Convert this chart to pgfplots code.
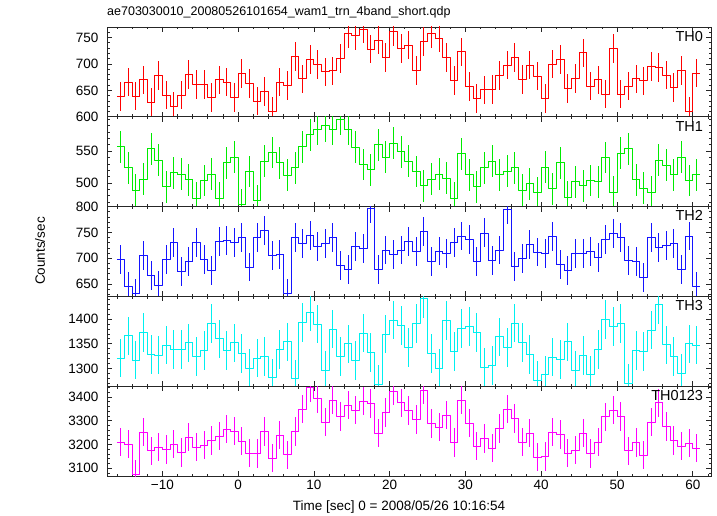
\documentclass[border=0pt]{standalone}
\usepackage{pgfplots}
\pgfplotsset{compat=1.18}
\usepackage{pgfplotstable}
\usepackage{fontspec}
\setmainfont{Liberation Sans}

\definecolor{cA}{rgb}{1,0,0}
\definecolor{cB}{rgb}{0,0.92,0}
\definecolor{cC}{rgb}{0.08,0.08,1}
\definecolor{cD}{rgb}{0,0.94,0.94}
\definecolor{cE}{rgb}{1,0,1}

\pgfplotstableread{
t tc a b c d e
-16 -15.5 638 557 697 1321 3210
-15 -14.5 666 524 646 1366 3201
-14 -13.5 639 489 631 1317 3075
-13 -12.5 670 506 706 1373 3252
-12 -11.5 627 554 666 1328 3173
-11 -10.5 678 536 647 1327 3189
-10 -9.5 641 494 698 1347 3178
-9 -8.5 620 516 730 1338 3201
-8 -7.5 641 514 675 1338 3165
-7 -6.5 680 505 694 1352 3231
-6 -5.5 661 476 730 1324 3189
-5 -4.5 661 504 697 1336 3197
-4 -3.5 637 514 677 1391 3216
-3 -2.5 670 476 732 1360 3235
-2 -1.5 666 532 734 1336 3265
-1 -0.5 637 541 731 1352 3256
0 0.5 682 466 740 1330 3214
1 1.5 663 518 683 1300 3163
2 2.5 630 472 740 1321 3161
3 3.5 648 534 753 1324 3254
4 4.5 610 548 705 1281 3142
5 5.5 666 532 707 1338 3240
6 6.5 659 512 631 1354 3156
7 7.5 714 524 740 1279 3254
8 8.5 672 557 729 1393 3349
9 9.5 708 576 744 1414 3438
10 10.5 699 584 723 1390 3392
11 11.5 685 590 729 1296 3294
12 12.5 687 585 740 1380 3386
13 13.5 710 600 686 1324 3317
14 14.5 757 584 678 1350 3366
15 15.5 754 556 722 1316 3345
16 16.5 766 529 719 1372 3382
17 17.5 728 521 797 1332 3373
18 18.5 745 560 678 1268 3248
19 19.5 712 541 716 1370 3335
20 20.5 761 563 707 1398 3424
21 21.5 729 549 716 1387 3375
22 22.5 736 534 732 1342 3342
23 23.5 688 518 713 1391 3304
24 24.5 743 496 752 1441 3428
25 25.5 757 506 694 1330 3287
26 26.5 749 514 714 1301 3273
27 27.5 712 508 710 1397 3324
28 28.5 669 476 730 1334 3209
29 29.5 723 546 743 1381 3387
30 30.5 657 513 737 1385 3290
31 31.5 635 494 694 1373 3193
32 32.5 651 524 749 1303 3225
33 33.5 652 534 696 1306 3185
34 34.5 678 513 716 1364 3268
35 35.5 698 519 794 1342 3349
36 36.5 712 524 684 1392 3308
37 37.5 671 489 699 1353 3210
38 38.5 698 499 727 1328 3248
39 39.5 677 485 712 1276 3147
40 40.5 635 525 709 1287 3149
41 41.5 700 491 742 1323 3252
42 42.5 708 532 688 1318 3242
43 43.5 654 478 677 1354 3163
44 44.5 673 502 709 1297 3176
45 45.5 721 496 709 1326 3248
46 46.5 658 504 713 1287 3161
47 47.5 670 502 701 1338 3210
48 48.5 643 540 736 1399 3316
49 49.5 729 486 748 1385 3344
50 50.5 643 547 740 1391 3318
51 51.5 658 554 695 1270 3173
52 52.5 672 505 694 1336 3207
53 53.5 668 492 663 1334 3155
54 54.5 695 486 741 1378 3294
55 55.5 693 536 721 1429 3375
56 56.5 679 528 725 1348 3276
57 57.5 655 513 728 1324 3217
58 58.5 688 541 679 1290 3193
59 59.5 611 504 743 1350 3206
60 60.5 683 513 645 1347 3185
61 61.5 683 513 645 1347 3185
}\lc

\pgfplotsset{
  panel/.style={
    scale only axis, width=604pt, height=89.8pt, anchor=north west,
    xmin=-17.3, xmax=62.4,
    axis line style={line width=0.9pt, draw=black!85},
    tick style={draw=black!85, line width=0.7pt},
    tick align=inside,
    major tick length=5pt, minor tick length=2.5pt,
    xtick={-10,0,...,60}, minor xtick={-16,-14,...,62},
    xticklabels={},
    tick label style={font=\fontsize{13.5}{14}\selectfont, text=black},
    yticklabel style={xshift=-5pt},
    /pgf/number format/assume math mode=true,
    /pgf/number format/1000 sep={},
    scaled y ticks=false,
    clip=true,
  },
}
\tikzset{lab/.style={anchor=north east, inner sep=0pt, text=black, font=\fontsize{14.5}{15}\selectfont}}

\begin{document}
\begin{tikzpicture}
\path[use as bounding box] (0,0) rectangle (717pt,-516pt);

\node[anchor=west, inner sep=0pt, font=\fontsize{12.5}{13}\selectfont] at (107pt,-12pt)
  {ae703030010\_20080526101654\_wam1\_trn\_4band\_short.qdp};
\node[rotate=90, inner sep=0pt, font=\fontsize{13.5}{14}\selectfont] at (40pt,-251pt) {Counts/sec};
\node[inner sep=0pt, font=\fontsize{13.5}{14}\selectfont] at (399pt,-507pt) {Time [sec] 0 = 2008/05/26 10:16:54};

% TH0
\begin{axis}[panel, at={(107pt,-27pt)}, ymin=600, ymax=770,
  ytick={600,650,700,750}, minor ytick={600,610,...,770}]
\addplot[color=cA, solid, line width=0.8pt, line join=round, const plot, mark=none] table[x=t, y=a] {\lc};
\addplot[draw=none, mark=none, skip coords between index={77}{78},
  error bars/.cd, x dir=both, x fixed=0.5, y dir=both, y fixed=27, error mark=none,
  error bar style={draw=cA, line width=0.8pt, solid}] table[x=tc, y=a] {\lc};
\node[lab] at (rel axis cs:0.987,0.955) {TH0};
\end{axis}

% TH1
\begin{axis}[panel, at={(107pt,-116.8pt)}, ymin=463, ymax=604,
  ytick={500,550}, minor ytick={470,480,...,600}]
\addplot[color=cB, solid, line width=0.8pt, line join=round, const plot, mark=none] table[x=t, y=b] {\lc};
\addplot[draw=none, mark=none, skip coords between index={77}{78},
  error bars/.cd, x dir=both, x fixed=0.5, y dir=both, y fixed=25, error mark=none,
  error bar style={draw=cB, line width=0.8pt, solid}] table[x=tc, y=b] {\lc};
\node[lab] at (rel axis cs:0.987,0.955) {TH1};
\end{axis}

% TH2
\begin{axis}[panel, at={(107pt,-206.6pt)}, ymin=626, ymax=800,
  ytick={650,700,750,800}, minor ytick={630,640,...,800}]
\addplot[color=cC, solid, line width=0.8pt, line join=round, const plot, mark=none] table[x=t, y=c] {\lc};
\addplot[draw=none, mark=none, skip coords between index={77}{78},
  error bars/.cd, x dir=both, x fixed=0.5, y dir=both, y fixed=28, error mark=none,
  error bar style={draw=cC, line width=0.8pt, solid}] table[x=tc, y=c] {\lc};
\node[lab] at (rel axis cs:0.987,0.955) {TH2};
\end{axis}

% TH3
\begin{axis}[panel, at={(107pt,-296.4pt)}, ymin=1264, ymax=1446,
  ytick={1300,1350,1400}, minor ytick={1270,1280,...,1440}]
\addplot[color=cD, solid, line width=0.8pt, line join=round, const plot, mark=none] table[x=t, y=d] {\lc};
\addplot[draw=none, mark=none, skip coords between index={77}{78},
  error bars/.cd, x dir=both, x fixed=0.5, y dir=both, y fixed=39, error mark=none,
  error bar style={draw=cD, line width=0.8pt, solid}] table[x=tc, y=d] {\lc};
\node[lab] at (rel axis cs:0.987,0.955) {TH3};
\end{axis}

% TH0123
\begin{axis}[panel, at={(107pt,-386.2pt)}, ymin=3067, ymax=3445,
  ytick={3100,3200,3300,3400}, minor ytick={3080,3100,...,3440},
  xticklabels={−10,0,10,20,30,40,50,60},
  xticklabel style={yshift=-1pt}]
\addplot[color=cE, solid, line width=0.8pt, line join=round, const plot, mark=none] table[x=t, y=e] {\lc};
\addplot[draw=none, mark=none, skip coords between index={77}{78},
  error bars/.cd, x dir=both, x fixed=0.5, y dir=both, y fixed=60, error mark=none,
  error bar style={draw=cE, line width=0.8pt, solid}] table[x=tc, y=e] {\lc};
\node[lab] at (rel axis cs:0.987,0.955) {TH0123};
\end{axis}
\end{tikzpicture}
\end{document}
